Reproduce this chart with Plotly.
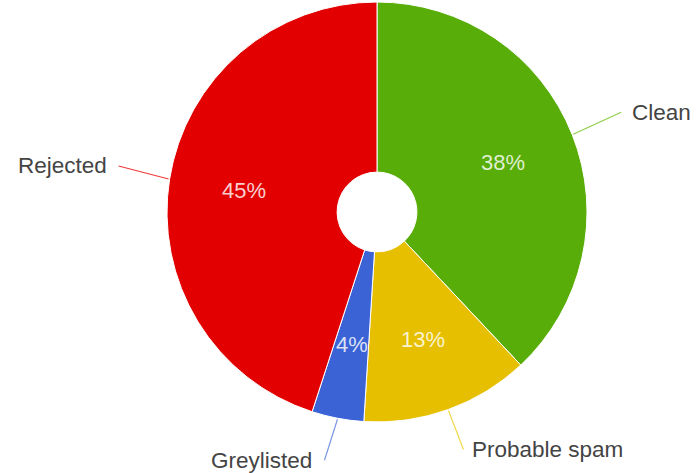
import math
import plotly.graph_objects as go

# ---- data ----
labels = ["Clean", "Probable spam", "Greylisted", "Rejected"]
values = [38, 13, 4, 45]
colors = ["#58ad08", "#e5bf00", "#3b63d6", "#e30000"]
line_colors = ["#8fcf4a", "#f0d84a", "#7c97e4", "#ef3a3a"]

# ---- layout geometry (pixels) ----
W, H = 700, 473
CX, CY, R = 377, 212, 210
HOLE = 0.19
PCT_R = 135
EDGE_R = 211
# label anchor offsets (pixels from slice edge point) and anchor sides
label_cfg = {
    "Clean": dict(dx=48, dy=-22, xanchor="left", pad=10),
    "Probable spam": dict(dx=15, dy=39, xanchor="left", pad=8),
    "Greylisted": dict(dx=-13, dy=41, xanchor="right", pad=11),
    "Rejected": dict(dx=-50, dy=-13, xanchor="right", pad=11),
}

fig = go.Figure(go.Pie(
    labels=labels, values=values, sort=False, direction="clockwise", rotation=0,
    hole=HOLE, textinfo="none", showlegend=False,
    marker=dict(colors=colors, line=dict(color="white", width=1)),
    domain=dict(x=[(CX - R) / W, (CX + R) / W], y=[(H - CY - R) / H, (H - CY + R) / H]),
))

def px(r, ang):
    x = CX + r * math.sin(ang)
    y = CY - r * math.cos(ang)
    return x / W, (H - y) / H

total = sum(values)
cum = 0
annotations = []
for lab, v, lc in zip(labels, values, line_colors):
    mid = (cum + v / 2) / total * 2 * math.pi
    cum += v
    # percentage inside
    x, y = px(PCT_R, mid)
    annotations.append(dict(x=x, y=y, xref="paper", yref="paper", showarrow=False,
                            xanchor="center", yanchor="middle",
                            text=f"{round(v / total * 100)}%",
                            font=dict(family="Liberation Sans, Arial", size=22,
                                      color="rgba(255,255,255,0.82)")))
    # outer label with leader line
    cfg = label_cfg[lab]
    ex, ey = px(EDGE_R, mid)
    annotations.append(dict(x=ex, y=ey, xref="paper", yref="paper", showarrow=True,
                            ax=cfg["dx"], ay=cfg["dy"], axref="pixel", ayref="pixel",
                            xanchor=cfg["xanchor"], yanchor="middle",
                            arrowhead=0, arrowwidth=1.2, arrowcolor=lc, standoff=0,
                            borderpad=cfg["pad"], text=lab,
                            font=dict(family="Liberation Sans, Arial", size=22.5, color="#444444")))

fig.update_layout(width=W, height=H, margin=dict(l=0, r=0, t=0, b=0),
                  paper_bgcolor="white", plot_bgcolor="white", annotations=annotations)
fig.write_html("out.html")
